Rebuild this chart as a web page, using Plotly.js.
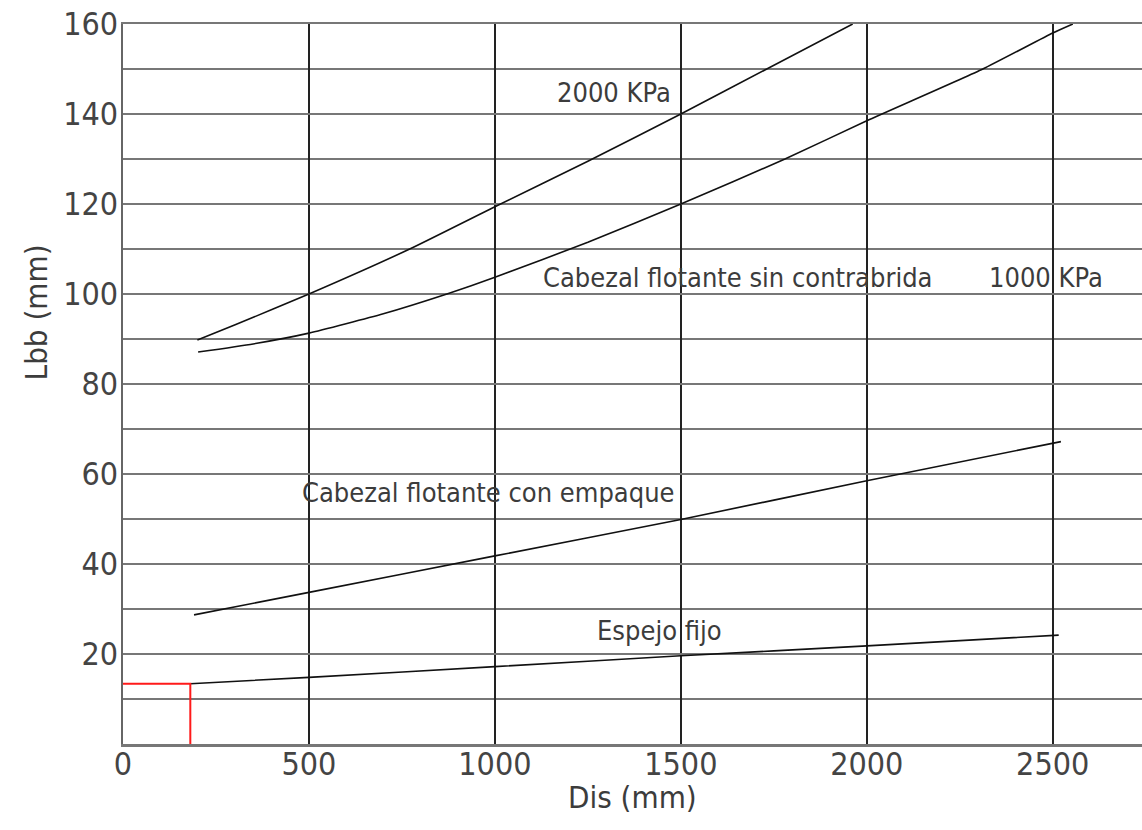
<!DOCTYPE html>
<html>
<head>
<meta charset="utf-8">
<script src="https://cdn.plot.ly/plotly-3.0.1.min.js"></script>
<style>
html,body{margin:0;padding:0;background:#fff;}
#chart{width:1142px;height:830px;}
</style>
</head>
<body>
<div id="chart"></div>
<script>
// Data
const xTicks = [0, 500, 1000, 1500, 2000, 2500];
const yTicks = [20, 40, 60, 80, 100, 120, 140, 160];

const kpa2000X = [200, 300, 500, 771, 1000, 1250, 1500, 1731, 1962];
const kpa2000Y = [89.8, 93.1, 100, 110, 119.4, 129.5, 140, 150, 160];

const kpa1000X = [202, 350, 500, 700, 871, 1000, 1250, 1500, 1780, 2000, 2312, 2500, 2554];
const kpa1000Y = [87.1, 88.9, 91.3, 95.6, 100, 103.7, 111.5, 120, 130, 138.5, 150, 158, 160];

const empaqueX = [191, 500, 1000, 1500, 2000, 2522];
const empaqueY = [28.7, 33.7, 41.8, 49.9, 58.5, 67.2];

const espejoX = [181, 500, 1000, 1500, 2000, 2516];
const espejoY = [13.4, 14.8, 17.2, 19.6, 21.8, 24.2];

const markerX = [0, 181, 181];
const markerY = [13.4, 13.4, 0];

const labels = [
  {text: "2000 KPa", x: 1320, y: 144.7},
  {text: "Cabezal flotante sin contrabrida", x: 1653, y: 103.6},
  {text: "1000 KPa", x: 2482, y: 103.6},
  {text: "Cabezal flotante con empaque", x: 982, y: 55.8},
  {text: "Espejo fijo", x: 1442, y: 25.3}
];

const FONT = "'DejaVu Sans Condensed', 'Liberation Sans Narrow', 'DejaVu Sans', sans-serif";
const lineStyle = {color: '#111', width: 1.6, shape: 'spline', smoothing: 0.5};

const traces = [
  {x: kpa2000X, y: kpa2000Y, mode: 'lines', line: lineStyle, hoverinfo: 'skip'},
  {x: kpa1000X, y: kpa1000Y, mode: 'lines', line: lineStyle, hoverinfo: 'skip'},
  {x: empaqueX, y: empaqueY, mode: 'lines', line: lineStyle, hoverinfo: 'skip'},
  {x: espejoX, y: espejoY, mode: 'lines', line: lineStyle, hoverinfo: 'skip'},
  {x: markerX, y: markerY, mode: 'lines', line: {color: '#ff1a1a', width: 2}, hoverinfo: 'skip'}
];

const annotations = labels.map(l => ({
  text: l.text, x: l.x, y: l.y, xref: 'x', yref: 'y',
  showarrow: false, xanchor: 'center', yanchor: 'middle',
  font: {family: FONT, size: 27, color: '#3c3c3c'}
}));
annotations.push({
  text: 'Lbb (mm)', xref: 'paper', yref: 'paper', x: -0.085, y: 0.6,
  xanchor: 'center', yanchor: 'middle', textangle: -90, showarrow: false,
  font: {family: FONT, size: 31, color: '#3c3c3c'}
});
annotations.push({
  text: 'Dis (mm)', xref: 'paper', yref: 'paper', x: 0.5, y: -0.074,
  xanchor: 'center', yanchor: 'middle', showarrow: false,
  font: {family: FONT, size: 31, color: '#3c3c3c'}
});

const layout = {
  width: 1142, height: 830,
  margin: {l: 123, r: 0, t: 24, b: 86},
  paper_bgcolor: '#fff', plot_bgcolor: '#fff',
  showlegend: false,
  xaxis: {
    range: [0, 2740], tickvals: xTicks, ticktext: xTicks.map(String),
    showgrid: true, gridcolor: '#222', gridwidth: 2,
    zeroline: false, showline: true, mirror: true, linecolor: '#777', linewidth: 2.5,
    ticks: '', ticklabelstandoff: -10,
    tickfont: {family: FONT, size: 32, color: '#444'}
  },
  yaxis: {
    range: [0, 160], tickvals: yTicks, ticktext: yTicks.map(String),
    showgrid: true, gridcolor: '#777', gridwidth: 2.5,
    minor: {dtick: 10, tick0: 0, showgrid: true, gridcolor: '#777', gridwidth: 2.5, ticks: ''},
    zeroline: false, showline: true, linecolor: '#666', linewidth: 2.5,
    ticks: '', ticklabelstandoff: -4,
    tickfont: {family: FONT, size: 32, color: '#444'}
  },
  annotations: annotations
};

Plotly.newPlot('chart', traces, layout, {staticPlot: true});
</script>
</body>
</html>
